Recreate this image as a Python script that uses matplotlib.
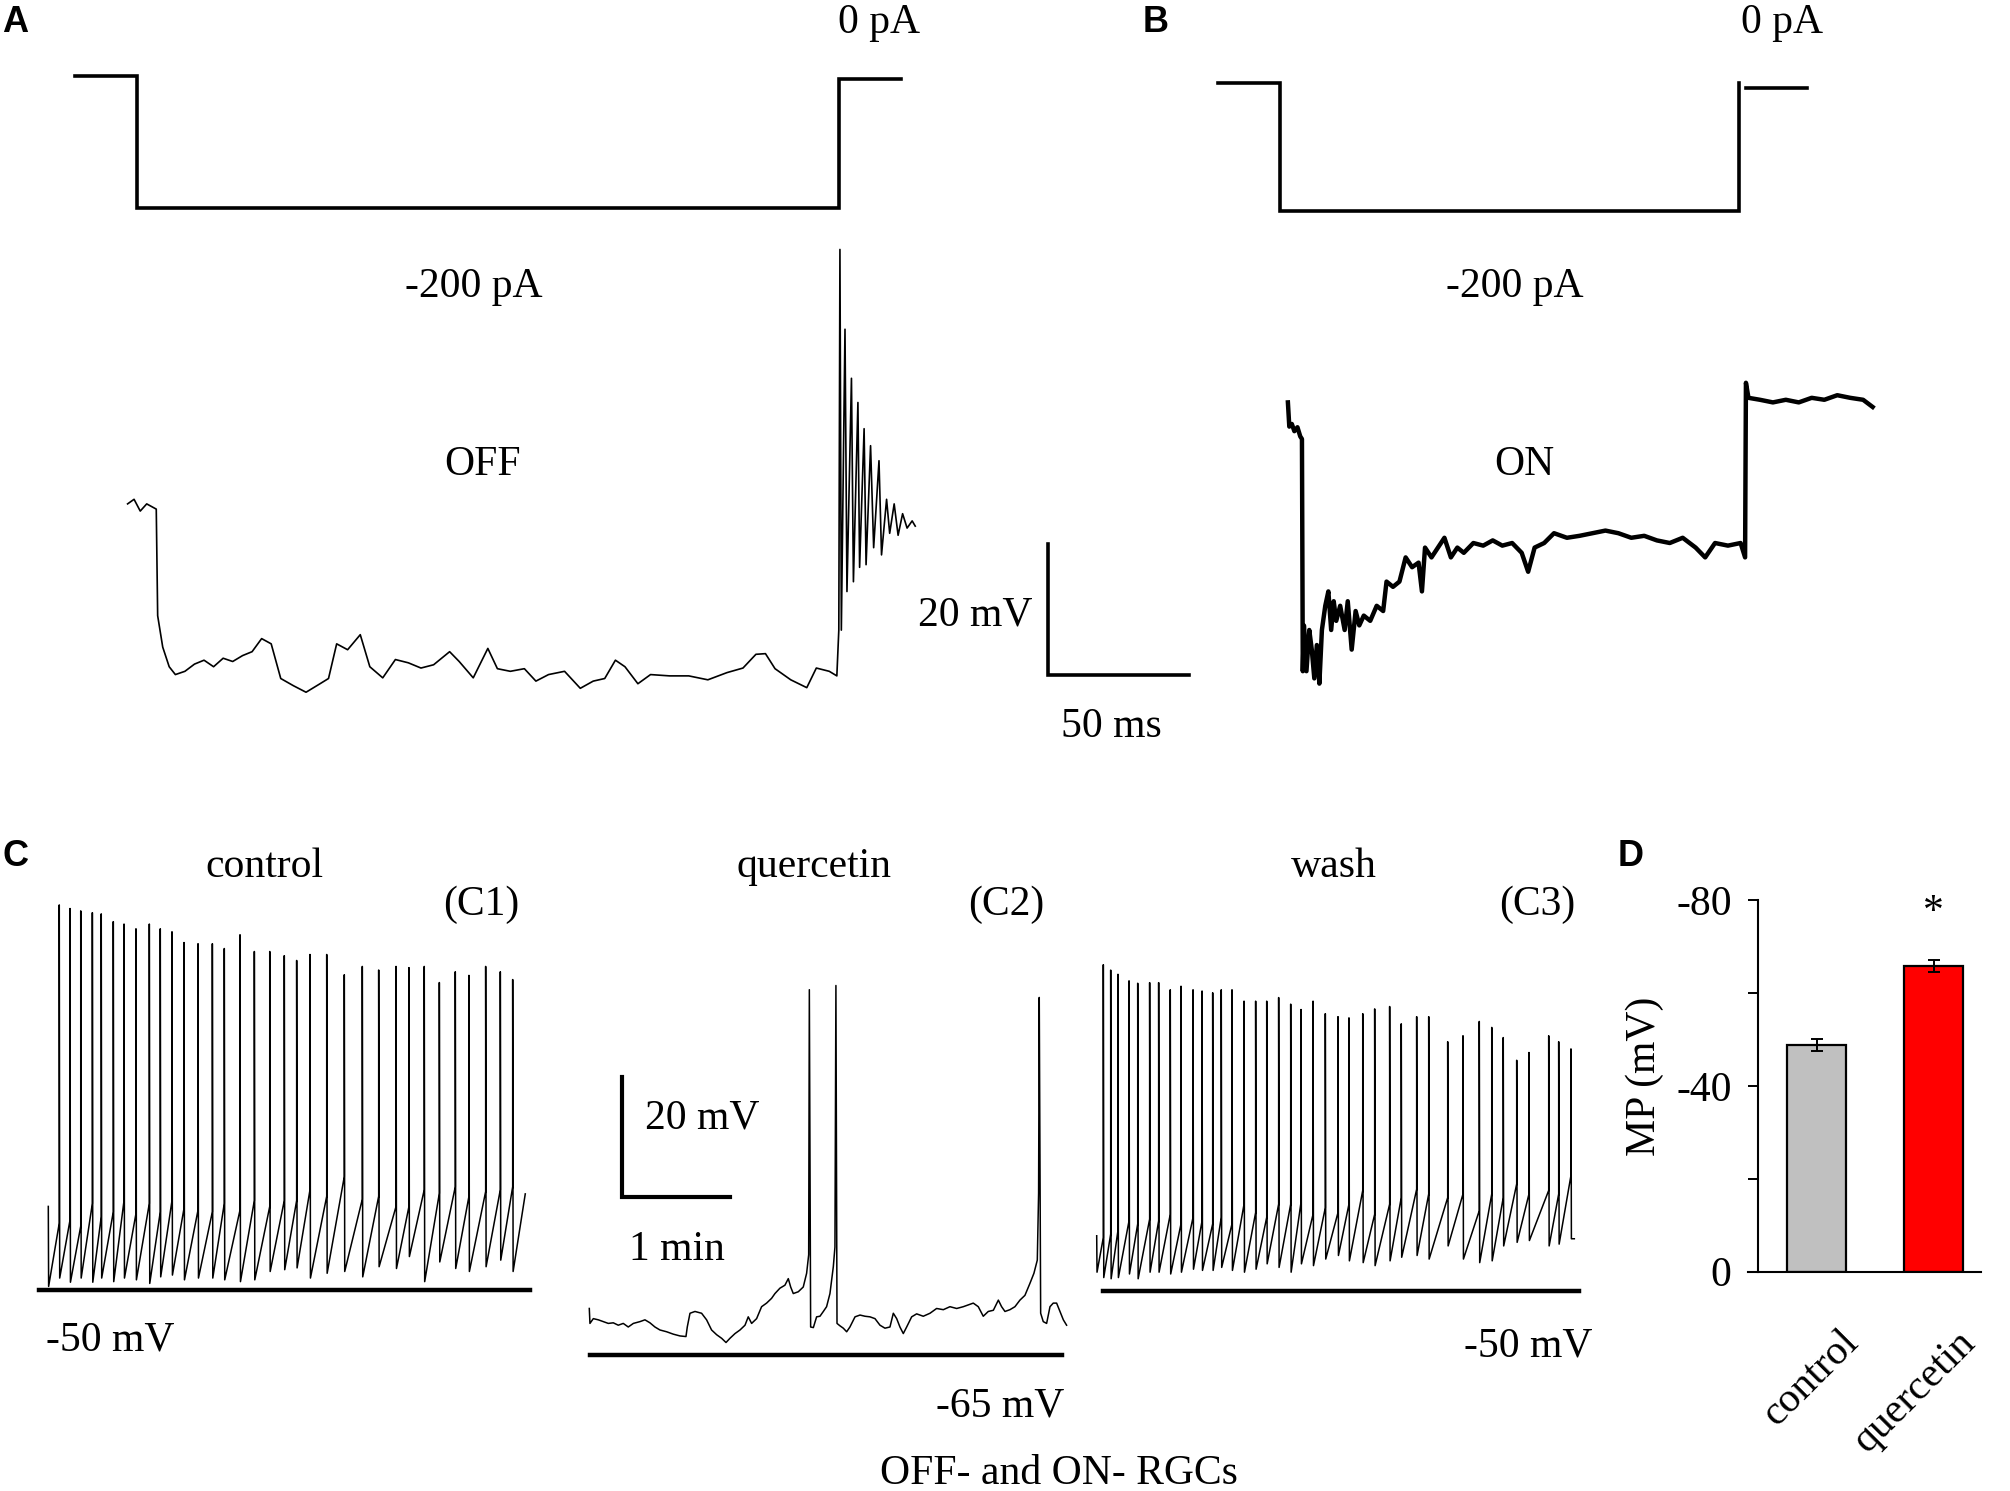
import matplotlib
matplotlib.use("Agg")
import matplotlib.pyplot as plt
from matplotlib.transforms import ScaledTranslation

# ---- panel A: OFF cell, voltage (ms, mV) ----
a_t = [0.0, 2.3, 4.5, 6.8, 10.2, 10.7, 12.5, 14.8, 17.0, 20.4,
       23.8, 27.2, 30.6, 34.0, 37.4, 40.9, 44.3, 47.7, 51.1, 54.5,
       59.0, 63.5, 68.1, 71.5, 74.4, 78.3, 82.8, 86.2, 90.8, 95.3,
       99.9, 104.4, 108.9, 114.6, 118.0, 123.0, 128.2, 131.6, 136.2, 141.2,
       145.3, 149.8, 155.5, 161.1, 165.7, 169.8, 173.6, 177.0, 181.6, 186.1,
       192.9, 199.7, 206.5, 213.3, 219.0, 223.6, 227.0, 230.4, 236.0, 241.7,
       245.1, 249.7, 252.4,
       253.1, 253.5, 254.0, 255.3, 256.0, 257.6, 258.3, 259.9, 260.5, 262.1,
       262.8, 264.4, 265.5, 267.4, 268.3, 270.1, 271.2, 272.8, 274.2, 275.8,
       277.4, 279.2, 280.3]
a_v = [-49.6, -48.9, -50.7, -49.6, -50.4, -66.7, -71.5, -74.5, -75.7, -75.2,
       -74.1, -73.5, -74.5, -73.2, -73.7, -72.8, -72.2, -70.2, -71.0, -76.3,
       -77.4, -78.4, -77.2, -76.3, -71.0, -71.9, -69.6, -74.5, -76.2, -73.4,
       -73.9, -74.7, -74.2, -72.2, -73.7, -76.2, -71.7, -74.8, -75.2, -74.8,
       -76.7, -75.7, -75.2, -77.8, -76.7, -76.3, -73.5, -74.5, -77.1, -75.7,
       -75.9, -75.9, -76.5, -75.4, -74.7, -72.6, -72.5, -74.8, -76.5, -77.7,
       -74.7, -75.2, -75.9,
       -68.9, -10.7, -68.9, -22.9, -63.0, -30.4, -61.5, -34.1, -59.3, -38.1,
       -58.9, -40.7, -56.3, -43.0, -57.4, -48.9, -54.1, -49.6, -54.4, -51.1,
       -53.3, -52.2, -53.0]

# ---- panel B: ON cell, voltage (ms, mV) ----
b_t = [0.0, 0.5, 1.4, 2.3, 3.4, 4.4, 5.0, 5.3, 5.7, 6.6,
       7.6, 8.5, 9.4, 10.3, 11.2, 12.1, 13.3, 14.4, 15.4, 16.3,
       17.2, 18.6, 20.2, 21.3, 22.7, 24.1, 25.4, 27.0, 29.3, 31.6,
       33.9, 35.1, 37.4, 39.7, 41.9, 44.2, 46.5, 47.7, 48.8, 51.1,
       53.4, 55.7, 58.0, 60.3, 62.6, 66.0, 69.5, 72.9, 76.3, 79.8,
       83.2, 85.5, 87.8, 91.2, 94.7, 99.3, 103.8, 108.4, 113.0, 117.6,
       122.2, 126.8, 131.3, 135.9, 140.5, 145.1, 148.5, 152.0, 156.6, 161.1,
       162.7, 163.0, 163.9, 168.0, 172.6, 177.2, 181.8, 186.4, 190.9, 195.5,
       200.1, 204.7, 208.1]
b_v = [-46.3, -50.0, -49.6, -50.7, -50.1, -51.5, -51.9, -87.4, -80.4, -87.4,
       -81.1, -84.1, -88.5, -83.4, -89.3, -81.1, -77.4, -75.2, -81.1, -76.7,
       -79.7, -77.4, -81.1, -76.7, -84.1, -78.2, -80.4, -78.9, -79.7, -77.4,
       -78.2, -73.7, -74.5, -73.7, -70.0, -71.5, -70.8, -75.2, -68.5, -70.0,
       -68.5, -67.0, -70.0, -68.5, -69.3, -67.8, -68.2, -67.4, -68.2, -67.8,
       -69.3, -72.2, -68.5, -67.8, -66.3, -67.0, -66.7, -66.3, -65.9, -66.3,
       -67.0, -66.7, -67.4, -67.8, -67.0, -68.5, -70.0, -67.8, -68.2, -67.8,
       -70.0, -43.3, -45.6, -45.9, -46.3, -45.9, -46.3, -45.6, -45.9, -45.2,
       -45.6, -45.9, -47.0]

# ---- current steps (ms, pA) ----
a_step_t = [-18.6, 3.4, 3.4, 253.3, 253.3, 275.1]
a_step_i = [0, 0, -200, -200, -4, -4]
b_step_t = [-25.0, -2.7, -2.7, 160.7, 160.7]
b_step_i = [0, 0, -200, -200, 0]
b_tail_t = [163.0, 184.8]
b_tail_i = [-7.5, -7.5]

# ---- panel C1: control spike train (min, mV) ----
c1_spike_t = [0.101, 0.200, 0.299, 0.406, 0.488, 0.599, 0.698, 0.808, 0.931, 1.032,
              1.140, 1.251, 1.380, 1.512, 1.622, 1.767, 1.899, 2.041, 2.175, 2.289,
              2.412, 2.566, 2.728, 2.894, 3.045, 3.205, 3.324, 3.465, 3.604, 3.751,
              3.877, 4.031, 4.166, 4.280]
c1_peak = [14.5, 13.9, 13.5, 13.2, 13.0, 11.7, 11.3, 10.5, 11.3, 10.5,
           10.0, 8.2, 8.0, 8.0, 7.2, 9.5, 6.7, 6.7, 6.0, 5.2,
           6.2, 6.2, 2.8, 4.2, 3.6, 4.2, 4.0, 4.2, 1.5, 3.3,
           2.7, 4.2, 3.3, 2.0]
c1_thr = [-38.8, -38.3, -39.3, -35.5, -37.7, -36.9, -35.0, -37.2, -35.5, -36.9,
          -35.0, -36.3, -36.6, -36.9, -35.5, -36.6, -35.0, -36.0, -35.0, -35.0,
          -33.2, -34.3, -31.0, -34.8, -34.3, -36.0, -36.0, -33.2, -33.8, -32.7,
          -34.3, -33.5, -33.2, -32.7]
c1_trough = [-48.0, -48.7, -48.0, -48.7, -48.0, -48.6, -48.0, -48.3, -48.9, -47.8,
             -47.5, -48.3, -48.0, -48.0, -48.3, -48.6, -48.3, -46.9, -46.6, -46.3,
             -48.0, -47.2, -46.9, -47.8, -46.1, -46.4, -44.4, -48.6, -45.3, -46.4,
             -46.9, -46.1, -45.0, -46.9]

# ---- panel C2: quercetin (min, mV) ----
c2_t = [0.000, 0.006, 0.037, 0.083, 0.129, 0.175, 0.221, 0.267, 0.313, 0.359,
        0.406, 0.467, 0.513, 0.559, 0.605, 0.651, 0.713, 0.774, 0.836, 0.891,
        0.903, 0.928, 0.974, 1.035, 1.081, 1.127, 1.174, 1.220, 1.260, 1.296,
        1.343, 1.389, 1.435, 1.465, 1.496, 1.542, 1.588, 1.634, 1.680, 1.711,
        1.757, 1.803, 1.834, 1.856, 1.880, 1.926, 1.972, 2.003, 2.022, 2.028,
        2.040, 2.065, 2.095, 2.126, 2.157, 2.187, 2.218, 2.249, 2.264, 2.273,
        2.283, 2.310, 2.341, 2.372, 2.402, 2.449, 2.495, 2.541, 2.587, 2.633,
        2.679, 2.725, 2.771, 2.802, 2.833, 2.863, 2.894, 2.925, 2.971, 3.017,
        3.078, 3.140, 3.201, 3.263, 3.324, 3.386, 3.447, 3.493, 3.539, 3.585,
        3.631, 3.677, 3.724, 3.770, 3.800, 3.831, 3.877, 3.923, 3.969, 4.015,
        4.061, 4.098, 4.129, 4.141, 4.147, 4.160, 4.184, 4.215, 4.246, 4.276,
        4.307, 4.338, 4.369, 4.399]
c2_v = [-57.2, -59.7, -58.9, -59.1, -59.4, -59.7, -59.6, -60.0, -59.7, -60.3,
        -59.7, -59.4, -59.1, -59.6, -60.3, -60.8, -61.1, -61.5, -61.8, -61.9,
        -60.3, -58.0, -57.7, -58.0, -59.1, -60.8, -61.6, -62.2, -62.9, -62.2,
        -61.4, -60.8, -60.0, -58.6, -59.7, -58.9, -56.9, -56.3, -55.5, -54.7,
        -53.8, -53.3, -52.2, -53.6, -54.7, -54.4, -53.6, -51.3, -48.2, -3.8,
        -60.3, -60.4, -58.6, -58.5, -57.7, -56.9, -54.7, -50.2, -46.9, -3.1,
        -59.7, -60.1, -60.5, -61.1, -60.3, -58.6, -58.3, -58.5, -58.6, -58.9,
        -60.0, -60.5, -60.3, -58.0, -58.9, -60.3, -61.4, -60.3, -58.6, -58.1,
        -58.5, -58.0, -57.2, -57.4, -56.9, -57.2, -56.9, -56.6, -56.3, -56.9,
        -58.5, -57.7, -57.5, -55.8, -56.9, -57.7, -57.4, -56.9, -55.8, -55.0,
        -53.0, -51.3, -49.1, -37.9, -5.1, -58.0, -59.4, -59.7, -56.9, -56.3,
        -56.3, -57.7, -59.1, -60.0]

# ---- panel C3: wash spike train (min, mV) ----
c3_spike_t = [0.061, 0.129, 0.196, 0.298, 0.378, 0.488, 0.571, 0.678, 0.777, 0.888,
              0.971, 1.069, 1.148, 1.247, 1.358, 1.465, 1.567, 1.677, 1.788, 1.883,
              1.994, 2.107, 2.224, 2.325, 2.452, 2.562, 2.700, 2.807, 2.949, 3.060,
              3.235, 3.376, 3.526, 3.641, 3.747, 3.871, 3.984, 4.166, 4.258, 4.371]
c3_peak = [4.6, 3.7, 3.0, 1.9, 1.5, 1.6, 1.6, 0.4, 1.0, 0.4,
           0.2, -0.1, 0.4, 0.4, -1.5, -1.5, -1.5, -0.9, -2.0, -2.9,
           -1.5, -3.6, -4.1, -4.3, -3.6, -2.8, -2.4, -5.3, -4.1, -4.1,
           -8.3, -7.3, -4.9, -5.9, -7.6, -11.4, -10.1, -7.3, -8.3, -9.5]
c3_thr = [-41.1, -40.5, -39.9, -38.3, -38.8, -38.0, -38.3, -37.2, -38.8, -37.7,
          -38.3, -38.8, -37.7, -38.8, -35.5, -36.9, -37.7, -35.5, -35.5, -35.2,
          -37.2, -36.1, -36.9, -35.5, -33.2, -37.2, -35.5, -34.4, -33.0, -33.8,
          -34.4, -33.8, -36.6, -33.8, -34.4, -32.1, -33.8, -33.2, -33.8, -30.7]
c3_trough = [-47.8, -48.0, -47.8, -47.2, -48.0, -46.9, -46.9, -47.2, -46.9, -46.4,
             -46.6, -46.6, -46.1, -46.6, -46.9, -46.4, -45.5, -46.1, -46.9, -45.5,
             -45.8, -44.7, -44.1, -45.0, -45.3, -45.8, -45.0, -44.4, -44.1, -44.7,
             -42.5, -44.7, -45.3, -45.0, -42.5, -41.9, -41.6, -42.5, -42.2, -41.3]

# ---- panel D: membrane potential ----
mp_groups = ["control", "quercetin"]
mp_mean = [-48.8, -65.8]
mp_sem = [1.2, 1.3]
mp_colors = ["#c0c0c0", "#ff0000"]

W, H = 2010, 1491
SERIF = "Liberation Serif"
FS = 30
plt.rcParams["font.family"] = SERIF

fig = plt.figure(figsize=(W / 100, H / 100), dpi=100)


def overlay(x0, y0, sx, sy):
    # transparent full-figure axes: data (0, 0) sits at pixel (x0, y0 from top)
    ax = fig.add_axes([0, 0, 1, 1])
    ax.set_xlim(-x0 / sx, (W - x0) / sx)
    ax.set_ylim(-(H - y0) / sy, y0 / sy)
    ax.axis("off")
    ax.patch.set_alpha(0)
    return ax


def put(x, y, s, size=FS, **kw):
    kw.setdefault("ha", "center")
    kw.setdefault("va", "center")
    fig.text(x / W, 1 - y / H, s, fontsize=size, **kw)


def train(t0, v0, spike_t, peak, thr, trough, t_end, v_end):
    xs, ys = [t0, t0 + 0.003], [v0[0], v0[1]]
    for st, pk, th, tr in zip(spike_t, peak, thr, trough):
        xs += [st, st, st + 0.004]
        ys += [th, pk, tr]
    xs.append(t_end)
    ys.append(v_end)
    return xs, ys


# A
ax_ai = overlay(127.6, 76.1, 2.81, 0.657)
ax_ai.plot(a_step_t, a_step_i, color="black", lw=2.6, solid_joinstyle="miter")
ax_av = overlay(127.6, 179.5, 2.81, 6.54)
ax_av.plot(a_t, a_v, color="black", lw=1.2)
# scale bar 20 mV / 50 ms
ax_av.plot([327.6, 327.6, 377.6], [-55.8, -75.8, -75.8], color="black", lw=2.6,
           solid_joinstyle="miter")
ax_av.text(321.9, -66.6, "20 mV", fontsize=FS, ha="right", va="center")
ax_av.text(350.1, -83.7, "50 ms", fontsize=FS, ha="center", va="center")

# B
ax_bi = overlay(1287.9, 83.4, 2.81, 0.64)
ax_bi.plot(b_step_t, b_step_i, color="black", lw=2.6, solid_joinstyle="miter")
ax_bi.plot(b_tail_t, b_tail_i, color="black", lw=2.6)
ax_bv = overlay(1287.9, 99.6, 2.81, 6.54)
ax_bv.plot(b_t, b_v, color="black", lw=3.2)

put(15, 23, "A", size=26, family="Liberation Sans", weight="bold")
put(1156, 23, "B", size=26, family="Liberation Sans", weight="bold")
put(879, 23, "0 pA")
put(1782, 23, "0 pA")
put(474, 287, "-200 pA")
put(1515, 287, "-200 pA")
put(483, 465, "OFF")
put(1524, 465, "ON")

# C1
ax_c1 = overlay(48.3, 991.5, 108.5, 5.97)
x, y = train(0.0, (-36.0, -49.4), c1_spike_t, c1_peak, c1_thr, c1_trough, 4.396, -33.9)
ax_c1.plot(x, y, color="black", lw=1.1)
ax_c1.plot([-0.089, 4.436], [-50, -50], color="black", lw=3.2)

# C2
ax_c2 = overlay(589.3, 967.0, 108.5, 5.97)
ax_c2.plot(c2_t, c2_v, color="black", lw=1.1)
ax_c2.plot([0.006, 4.354], [-65, -65], color="black", lw=3.2)
ax_c2.plot([0.301, 0.301, 1.301], [-18.5, -38.5, -38.5], color="black", lw=3.0,
           solid_joinstyle="miter")

# C3
ax_c3 = overlay(1096.7, 992.2, 108.5, 5.97)
x, y = train(0.0, (-40.8, -46.9), c3_spike_t, c3_peak, c3_thr, c3_trough, 4.402, -41.3)
ax_c3.plot(x, y, color="black", lw=1.1)
ax_c3.plot([0.054, 4.449], [-50, -50], color="black", lw=3.2)

put(15, 856, "C", size=26, family="Liberation Sans", weight="bold")
put(264, 867, "control")
put(481, 905, "(C1)")
put(814, 867, "quercetin")
put(1006, 905, "(C2)")
put(1334, 867, "wash")
put(1537, 905, "(C3)")
put(702, 1118, "20 mV")
put(677, 1250, "1 min")
put(110, 1340, "-50 mV")
put(1000, 1406, "-65 mV")
put(1528, 1346, "-50 mV")
put(1059, 1474, "OFF- and ON- RGCs")

# D
put(1631, 856, "D", size=26, family="Liberation Sans", weight="bold")
ax_d = fig.add_axes([1758.3 / W, 1 - 1271.7 / H, (1980.6 - 1758.3) / W, (1271.7 - 900) / H])
ax_d.bar(range(len(mp_mean)), mp_mean, width=0.5, color=mp_colors, edgecolor="black",
         linewidth=1.6, yerr=mp_sem, capsize=4.5,
         error_kw=dict(elinewidth=1.4, capthick=1.4, ecolor="black"))
ax_d.set_xlim(-0.499, 1.401)
ax_d.set_ylim(0, -80)
ax_d.set_yticks([0, -20, -40, -60, -80], ["0", "", "-40", "", "-80"])
ax_d.tick_params(axis="y", direction="out", length=7.2, width=1.4, pad=12, labelsize=FS)
ax_d.set_xticks(range(len(mp_groups)), mp_groups, rotation=45, ha="right", va="center",
                rotation_mode="anchor", fontsize=FS)
ax_d.tick_params(axis="x", length=0, pad=0)
off = ScaledTranslation(36 / 100, -65 / 100, fig.dpi_scale_trans)
for lab in ax_d.get_xticklabels():
    lab.set_transform(lab.get_transform() + off)
for side in ("top", "right"):
    ax_d.spines[side].set_visible(False)
ax_d.spines["left"].set_linewidth(1.5)
ax_d.spines["bottom"].set_linewidth(1.5)
ax_d.spines["bottom"].set_bounds(-0.499 - 10 / 117, 1.401)
ax_d.set_ylabel("MP (mV)", fontsize=FS)
ax_d.yaxis.set_label_coords(-0.426, 0.525)
ax_d.text(1, -77.2, "*", fontsize=FS, ha="center", va="center")
ax_d.patch.set_alpha(0)

fig.savefig("out.png", dpi=100)
